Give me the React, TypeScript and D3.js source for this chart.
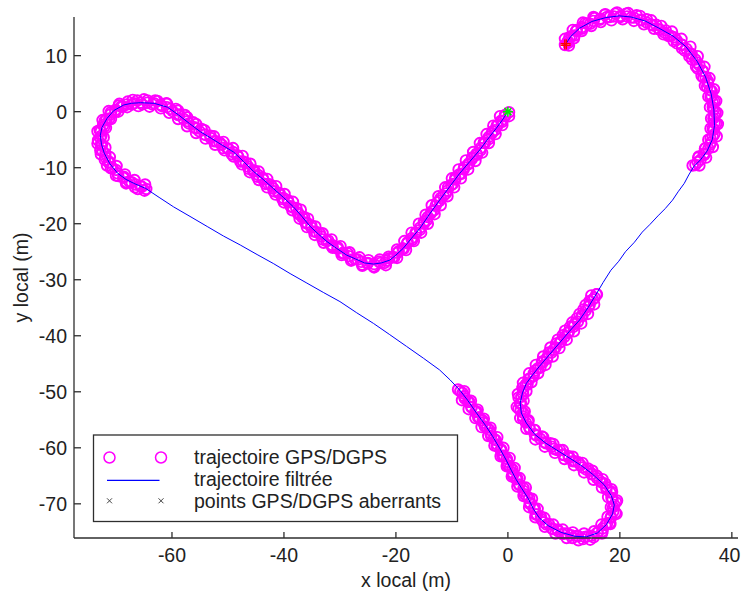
import React from 'react';
import * as d3 from 'd3';

type P = [number, number];

const xTicks = [-60, -40, -20, 0, 20, 40];
const yTicks = [-70, -60, -50, -40, -30, -20, -10, 0, 10];
const xDomain: P = [-77.5, 41.1];
const yDomain: P = [-76.1, 16.9];

const xLabel = 'x local (m)';
const yLabel = 'y local (m)';
const legendLabels = ['trajectoire GPS/DGPS', 'trajectoire filtrée', 'points GPS/DGPS aberrants'];

const startPoint: P = [0, 0];
const endPoint: P = [10.3, 12.0];

// GPS/DGPS measurements, segment 1
const gpsSegA: P[] = [
  [0.2,-0.1],[-0.5,-0.8],[-1.0,-1.8],[-1.8,-2.4],[-2.3,-3.3],[-2.9,-3.9],[-3.4,-4.9],[-4.3,-5.5],[-4.9,-6.9],[-5.5,-7.7],
  [-6.4,-8.2],[-6.9,-9.2],[-7.8,-9.9],[-8.3,-11.1],[-9.4,-11.8],[-9.8,-12.9],[-10.7,-13.5],[-11.1,-14.6],[-12.0,-15.4],[-12.6,-16.2],
  [-13.2,-17.6],[-13.8,-18.2],[-14.5,-19.4],[-15.0,-20.0],[-15.7,-21.1],[-16.4,-21.7],[-17.1,-22.9],[-17.9,-23.3],[-18.6,-24.5],[-19.5,-24.9],
  [-20.3,-26.0],[-21.2,-26.2],[-22.0,-27.0],[-23.0,-26.8],[-24.0,-27.6],[-25.0,-27.0],[-26.0,-27.3],[-26.8,-26.4],[-27.8,-26.4],[-28.6,-25.3],
  [-29.6,-25.3],[-30.4,-24.2],[-31.4,-24.1],[-32.1,-23.0],[-33.1,-22.8],[-33.6,-21.7],[-34.6,-21.4],[-35.1,-20.3],[-36.1,-19.9],[-36.4,-18.8],
  [-37.4,-18.3],[-37.8,-17.2],[-38.8,-16.9],[-39.3,-15.8],[-40.3,-15.6],[-40.8,-14.5],[-41.8,-14.2],[-42.3,-13.1],[-43.3,-12.9],[-43.8,-11.8],
  [-44.8,-11.6],[-45.3,-10.5],[-46.3,-10.2],[-46.8,-9.1],[-47.8,-8.9],[-48.3,-7.8],[-49.3,-7.6],[-49.9,-6.6],[-50.9,-6.5],[-51.5,-5.5],
  [-52.5,-5.3],[-53.1,-4.3],[-54.1,-4.1],[-54.7,-3.1],[-55.7,-3.0],[-56.2,-1.9],[-57.2,-1.7],[-57.7,-0.6],[-58.7,-0.5],[-59.3,0.5],
  [-60.3,0.5],[-60.9,1.4],[-61.8,1.0],[-62.6,1.9],[-63.5,1.3],[-64.4,2.0],[-65.3,1.3],[-66.2,2.0],[-67.1,1.3],[-67.9,1.8],
  [-68.8,0.9],[-69.5,1.1],[-70.1,0.0],[-70.9,-0.1],[-71.2,-1.2],[-72.0,-1.6],[-72.1,-2.7],[-72.9,-3.3],[-72.6,-4.3],[-73.2,-5.1],
  [-72.5,-5.9],[-72.8,-6.9],[-71.9,-7.5],[-72.0,-8.6],[-71.1,-9.0],[-70.9,-10.1],[-70.0,-10.4],[-69.6,-11.5],[-68.6,-11.6],[-68.1,-12.6],
  [-67.2,-12.6],[-66.6,-13.5],[-65.6,-13.3],[-64.9,-14.1],
  [0.2,-0.8],[-1.4,-0.8],[-1.0,-2.4],[-2.6,-2.5],[-2.2,-4.0],[-3.8,-4.0],[-3.4,-5.6],[-5.0,-5.6],[-4.6,-7.3],[-6.2,-7.2],
  [-5.8,-8.8],[-7.5,-8.7],[-7.1,-10.3],[-8.8,-10.3],[-8.4,-11.9],[-10.0,-11.9],[-9.6,-13.5],[-11.2,-13.5],[-10.8,-15.1],[-12.4,-15.1],
  [-12.0,-16.7],[-13.6,-16.7],[-13.1,-18.3],[-14.7,-18.4],[-14.3,-20.0],[-15.9,-20.0],[-15.5,-21.6],[-17.2,-21.6],[-16.8,-23.1],[-18.5,-23.1],
  [-18.2,-24.7],[-19.8,-24.6],[-19.8,-26.1],[-21.3,-25.9],[-21.8,-27.4],[-22.9,-26.4],[-23.9,-27.8],[-24.9,-26.5],[-26.0,-27.5],[-26.5,-26.0],
  [-28.0,-26.6],[-28.3,-25.1],[-29.7,-25.6],[-29.9,-24.0],[-31.3,-24.3],[-31.5,-22.8],[-32.9,-23.4],[-33.1,-21.7],[-34.5,-22.0],[-34.4,-20.5],
  [-35.9,-20.6],[-35.7,-19.1],[-37.2,-19.1],[-37.0,-17.5],[-38.5,-17.6],[-38.4,-16.1],[-40.0,-16.2],[-39.9,-14.7],[-41.5,-14.8],[-41.4,-13.3],
  [-43.0,-13.5],[-43.0,-12.0],[-44.5,-12.2],[-44.5,-10.7],[-46.1,-10.8],[-46.0,-9.3],[-47.5,-9.4],[-47.4,-7.9],[-49.0,-8.0],[-49.1,-6.5],
  [-50.6,-6.9],[-50.8,-5.4],[-52.3,-5.9],[-52.5,-4.4],[-54.0,-4.8],[-54.2,-3.3],[-55.7,-3.8],[-55.7,-2.2],[-57.3,-2.6],[-57.3,-1.0],
  [-58.9,-1.3],[-58.9,0.2],[-60.5,-0.2],[-61.0,1.5],[-62.0,0.6],[-63.0,2.0],[-64.0,0.9],[-65.0,2.2],[-66.0,1.0],[-67.0,2.1],
  [-68.0,0.8],[-69.4,1.4],[-69.6,0.0],[-71.3,0.1],[-70.9,-1.3],[-72.4,-1.5],[-71.8,-2.9],[-73.3,-3.5],[-72.2,-4.6],[-73.3,-5.7],
  [-71.9,-6.4],[-72.7,-7.6],[-71.1,-8.1],[-71.6,-9.6],[-69.9,-9.7],[-70.0,-11.4],[-68.4,-11.2],[-68.2,-12.8],[-66.7,-12.2],[-66.1,-13.8],
  [-64.8,-13.0],
  [-0.5,-0.6],[-1.2,-1.6],[-2.0,-2.5],[-2.7,-3.5],[-3.4,-4.5],[-4.1,-5.6],[-4.9,-6.5],[-5.6,-7.5],[-6.4,-8.4],[-7.1,-9.4],
  [-7.9,-10.3],[-8.7,-11.2],[-9.4,-12.1],[-10.1,-13.1],[-10.8,-14.1],[-11.5,-15.0],[-12.2,-15.9],[-12.9,-16.8],[-13.6,-17.8],[-14.3,-18.8],
  [-15.0,-19.7],[-15.7,-20.7],[-16.5,-21.6],[-17.2,-22.6],[-18.0,-23.5],[-18.8,-24.4],[-19.7,-25.2],[-20.6,-26.0],[-21.6,-26.6],[-22.7,-27.0],
  [-23.9,-27.2],[-25.1,-27.1],[-26.2,-26.8],[-27.3,-26.3],[-28.4,-25.8],[-29.4,-25.2],[-30.4,-24.5],[-31.4,-23.8],[-32.4,-23.1],[-33.3,-22.3],
  [-34.2,-21.5],[-35.1,-20.7],[-35.9,-19.8],[-36.7,-18.9],[-37.5,-18.0],[-38.4,-17.1],[-39.2,-16.2],[-40.1,-15.4],[-41.0,-14.5],[-41.9,-13.7],
  [-42.8,-12.9],[-43.7,-12.1],[-44.6,-11.3],[-45.5,-10.6],[-46.4,-9.8],[-47.3,-8.9],[-48.2,-8.0],[-49.1,-7.2],[-50.1,-6.6],[-51.1,-5.9],
  [-52.1,-5.3],[-53.1,-4.7],[-54.1,-4.1],[-55.1,-3.5],[-56.0,-2.8],[-57.0,-2.1],[-57.9,-1.3],[-58.9,-0.6],[-59.9,0.1],[-60.9,0.8],
  [-62.0,1.2],[-63.2,1.5],[-64.4,1.6],[-65.6,1.6],[-66.8,1.5],[-68.0,1.3],[-69.1,0.9],[-70.1,0.3],[-71.0,-0.5],[-71.7,-1.4],
  [-72.3,-2.4],[-72.7,-3.5],[-72.8,-4.7],[-72.7,-5.9],[-72.4,-7.0],[-71.9,-8.1],[-71.3,-9.1],[-70.6,-10.1],[-69.7,-11.0],[-68.7,-11.8],
  [-67.6,-12.5],[-66.5,-13.0],[-65.4,-13.4],[-64.6,-13.8],
];

// GPS/DGPS measurements, segment 2
const gpsSegB: P[] = [
  [-8.9,-49.6],[-8.1,-50.2],[-7.7,-51.2],[-6.9,-51.8],[-6.5,-52.8],[-5.6,-53.5],[-5.3,-54.6],[-4.5,-55.1],[-4.1,-56.2],[-3.3,-56.8],
  [-3.0,-57.9],[-2.2,-58.6],[-2.0,-59.7],[-1.2,-60.3],[-1.0,-61.4],[-0.2,-62.0],[0.0,-63.1],[0.8,-63.8],[0.9,-64.9],[1.7,-65.5],
  [2.0,-66.6],[2.8,-67.2],[3.0,-68.3],[3.8,-69.0],[3.9,-70.0],[4.8,-70.8],[5.0,-71.9],[5.9,-72.3],[6.4,-73.3],[7.3,-73.6],
  [8.0,-74.5],[8.9,-74.6],[9.7,-75.4],[10.6,-75.3],[11.5,-76.1],[12.4,-75.7],[13.4,-76.3],[14.3,-75.8],[15.3,-76.0],[16.0,-75.1],
  [16.9,-74.9],[17.4,-73.8],[18.2,-73.4],[18.4,-72.3],[19.2,-71.6],[18.8,-70.6],[19.3,-69.7],[18.5,-68.9],[18.6,-67.9],[17.6,-67.4],
  [17.4,-66.4],[16.4,-65.9],[15.9,-65.0],[14.9,-64.7],[14.3,-63.7],[13.3,-63.5],[12.6,-62.6],[11.6,-62.4],[10.9,-61.5],[9.9,-61.3],
  [9.3,-60.4],[8.2,-60.2],[7.6,-59.2],[6.6,-59.0],[6.1,-58.0],[5.1,-57.8],[4.7,-56.8],[3.8,-56.3],[3.6,-55.3],[2.7,-54.8],
  [2.7,-53.7],[1.9,-53.0],[2.3,-52.0],[1.9,-51.0],[2.7,-50.4],[2.6,-49.3],[3.5,-48.7],[3.7,-47.7],[4.6,-47.2],[4.9,-46.2],
  [5.8,-45.7],[6.1,-44.6],[7.0,-44.1],[7.3,-43.0],[8.2,-42.5],[8.6,-41.4],[9.5,-41.0],[9.8,-39.9],[10.7,-39.5],[11.1,-38.4],
  [11.9,-37.9],[12.3,-36.9],[13.2,-36.4],[13.5,-35.3],[14.4,-34.8],[14.6,-33.8],[15.5,-33.2],[15.9,-32.6],
  [-7.8,-49.9],[-8.2,-51.5],[-6.6,-51.6],[-7.0,-53.1],[-5.4,-53.2],[-5.8,-54.7],[-4.3,-54.8],[-4.7,-56.3],[-3.1,-56.4],[-3.5,-57.9],
  [-1.9,-58.1],[-2.4,-59.6],[-0.8,-60.0],[-1.3,-61.5],[0.3,-61.8],[-0.2,-63.3],[1.2,-63.6],[0.7,-65.1],[2.1,-65.4],[1.7,-66.9],
  [3.2,-67.1],[2.8,-68.6],[4.3,-69.1],[3.8,-70.6],[5.3,-70.9],[4.9,-72.4],[6.5,-72.5],[6.6,-74.1],[8.1,-73.7],[8.5,-75.3],
  [9.8,-74.6],[10.5,-76.1],[11.6,-75.1],[12.6,-76.5],[13.6,-75.3],[14.7,-76.4],[15.4,-74.9],[16.8,-75.3],[16.7,-73.7],[18.3,-73.6],
  [17.8,-72.3],[19.4,-71.8],[18.4,-70.6],[19.5,-69.4],[17.9,-68.8],[18.5,-67.4],[16.8,-67.1],[16.9,-65.6],[15.3,-65.7],[15.1,-64.1],
  [13.6,-64.4],[13.3,-62.7],[11.8,-63.1],[11.6,-61.6],[10.1,-62.0],[9.8,-60.4],[8.4,-60.9],[8.1,-59.3],[6.6,-59.8],[6.3,-58.1],
  [4.9,-58.5],[4.8,-56.8],[3.3,-56.6],[3.7,-55.1],[2.2,-54.7],[3.0,-53.5],[1.6,-52.7],[2.8,-51.6],[1.8,-50.4],[3.3,-49.9],
  [2.7,-48.4],[4.2,-48.3],[3.8,-46.7],[5.4,-46.7],[5.0,-45.2],[6.7,-45.2],[6.3,-43.7],[8.0,-43.7],[7.6,-42.1],[9.2,-42.2],
  [8.9,-40.7],[10.5,-40.7],[10.2,-39.1],[11.8,-39.2],[11.5,-37.6],[13.1,-37.8],[12.8,-36.1],[14.3,-36.1],[13.9,-34.5],[15.4,-34.4],
  [14.9,-32.8],
  [-8.5,-49.9],[-7.8,-50.8],[-7.1,-51.8],[-6.5,-52.7],[-5.8,-53.6],[-5.1,-54.6],[-4.4,-55.5],[-3.7,-56.4],[-3.1,-57.4],[-2.5,-58.4],
  [-1.9,-59.4],[-1.3,-60.4],[-0.7,-61.4],[-0.1,-62.5],[0.4,-63.5],[0.9,-64.5],[1.5,-65.6],[2.1,-66.6],[2.8,-67.7],[3.4,-68.7],
  [4.0,-69.8],[4.6,-70.9],[5.2,-71.9],[6.0,-72.8],[6.9,-73.7],[7.9,-74.4],[9.0,-74.9],[10.1,-75.3],[11.3,-75.6],[12.5,-75.8],
  [13.7,-75.9],[14.9,-75.7],[16.0,-75.2],[16.9,-74.4],[17.7,-73.5],[18.4,-72.5],[18.8,-71.4],[19.0,-70.2],[18.7,-69.1],[18.3,-68.0],
  [17.6,-67.0],[16.8,-66.2],[15.9,-65.4],[15.0,-64.6],[14.0,-63.9],[13.0,-63.1],[12.0,-62.4],[10.9,-61.8],[9.9,-61.2],[8.8,-60.4],
  [7.8,-59.8],[6.8,-59.2],[5.8,-58.4],[4.8,-57.6],[3.9,-56.6],[3.2,-55.5],[2.7,-54.4],[2.3,-53.3],[2.2,-52.1],[2.4,-50.9],
  [2.7,-49.8],[3.2,-48.7],[3.9,-47.7],[4.6,-46.7],[5.4,-45.8],[6.2,-44.8],[7.0,-43.9],[7.8,-43.0],[8.5,-42.1],[9.3,-41.2],
  [10.1,-40.2],[10.9,-39.3],[11.7,-38.4],[12.5,-37.5],[13.3,-36.5],[13.9,-35.5],[14.6,-34.5],[15.2,-33.5],[15.8,-32.6],
];

// GPS/DGPS measurements, segment 3
const gpsSegC: P[] = [
  [33.0,-9.6],[33.9,-9.0],[34.1,-8.0],[35.0,-7.5],[35.3,-6.5],[36.1,-5.9],[36.2,-4.8],[36.9,-4.0],[36.6,-3.0],[37.2,-2.1],
  [36.7,-1.2],[37.1,-0.2],[36.6,0.8],[36.9,1.8],[36.2,2.6],[36.4,3.7],[35.6,4.4],[35.7,5.5],[34.9,6.1],[34.8,7.2],
  [33.9,7.7],[33.7,8.8],[32.9,9.3],[32.5,10.4],[31.6,10.9],[31.1,11.9],[30.2,12.2],[29.7,13.3],[28.7,13.5],[28.2,14.5],
  [27.2,14.6],[26.5,15.5],[25.5,15.6],[24.8,16.5],[23.8,16.3],[23.0,17.2],[22.0,16.8],[21.1,17.5],[20.1,16.9],[19.2,17.5],
  [18.2,16.9],[17.3,17.3],[16.4,16.4],[15.5,16.7],[14.7,15.7],[13.8,15.8],[13.2,14.8],[12.3,14.6],[11.9,13.6],[11.0,13.3],
  [10.8,12.3],[10.2,11.9],
  [34.2,-9.6],[34.0,-8.2],[35.4,-8.2],[35.2,-6.6],[36.6,-6.3],[35.8,-5.0],[37.3,-4.4],[36.2,-3.0],[37.5,-2.2],[36.3,-1.2],
  [37.4,-0.2],[36.1,0.8],[37.2,1.9],[35.8,2.7],[36.8,4.0],[35.2,4.6],[36.0,6.0],[34.6,6.4],[35.1,8.0],[33.6,8.1],
  [33.9,9.9],[32.4,9.9],[32.6,11.6],[31.1,11.3],[31.0,13.0],[29.6,12.6],[29.3,14.3],[27.8,13.8],[27.4,15.3],[26.1,14.8],
  [25.6,16.3],[24.3,15.6],[23.6,17.1],[22.5,16.2],[21.5,17.6],[20.5,16.5],[19.5,17.7],[18.5,16.3],[17.4,17.4],[16.6,16.0],
  [15.3,16.9],[14.9,15.3],[13.4,15.9],[13.2,14.4],[11.6,14.6],[11.8,13.1],[10.2,13.0],[10.9,11.8],
  [33.5,-9.5],[34.4,-8.6],[35.1,-7.7],[35.8,-6.6],[36.3,-5.5],[36.6,-4.4],[36.8,-3.2],[36.9,-2.0],[36.9,-0.8],[36.8,0.4],
  [36.6,1.6],[36.4,2.8],[36.1,3.9],[35.7,5.1],[35.3,6.2],[34.8,7.3],[34.2,8.3],[33.5,9.3],[32.8,10.3],[31.9,11.2],
  [31.0,12.0],[30.1,12.8],[29.1,13.5],[28.0,14.1],[27.0,14.7],[25.9,15.4],[24.8,15.9],[23.7,16.4],[22.5,16.8],[21.3,17.0],
  [20.1,17.1],[18.9,17.0],[17.7,16.9],[16.5,16.6],[15.3,16.2],[14.2,15.7],[13.2,15.1],[12.2,14.4],[11.4,13.5],[10.7,12.6],
];

// filtered trajectory
const filtered: P[] = [
  [0,0],[-1.0,-1.5],[-2.1,-3.0],[-3.6,-4.9],[-5.0,-6.8],[-6.8,-8.9],[-8.6,-11.0],[-10.4,-13.4],[-12.2,-15.8],[-14.0,-18.3],
  [-15.7,-20.8],[-17.3,-22.7],[-18.7,-24.4],[-20.0,-25.6],[-21.1,-26.5],[-22.6,-27.0],[-24.0,-27.2],[-25.6,-27.0],[-27.2,-26.3],[-28.8,-25.6],
  [-30.6,-24.4],[-32.3,-23.2],[-33.8,-21.9],[-35.3,-20.5],[-36.8,-18.7],[-38.3,-17.0],[-40.1,-15.3],[-41.9,-13.7],[-43.7,-12.1],[-45.4,-10.7],
  [-47.2,-8.9],[-49.0,-7.2],[-51.0,-6.0],[-52.9,-4.8],[-54.9,-3.6],[-56.9,-2.1],[-58.8,-0.6],[-60.8,0.8],[-63.2,1.5],[-65.6,1.6],
  [-67.2,1.5],[-68.6,1.2],[-70.4,0.2],[-71.6,-1.2],[-72.5,-2.8],[-72.8,-4.2],[-72.6,-5.8],[-72.1,-7.4],[-71.1,-9.3],[-69.7,-11.0],
  [-68.2,-12.1],[-66.8,-12.8],[-64.7,-13.7],
  [-62.3,-15.3],[-59.7,-17.0],[-56.6,-18.8],[-53.7,-20.5],[-50.8,-22.2],[-47.8,-23.8],[-44.8,-25.5],[-41.9,-27.1],[-38.9,-28.9],[-35.9,-30.6],
  [-32.9,-32.3],[-30.0,-33.9],[-27.0,-35.9],[-24.0,-37.8],[-21.1,-39.8],[-18.1,-41.9],[-15.1,-44.0],[-12.2,-46.1],[-10.3,-47.9],[-8.6,-49.7],
  [-7.2,-51.5],[-5.6,-53.8],[-4.0,-56.0],[-2.7,-58.0],[-1.4,-60.2],[-0.3,-62.2],[0.6,-64.0],[1.5,-65.7],[2.5,-67.3],[3.6,-69.0],
  [4.6,-71.0],[5.6,-72.5],[7.2,-73.9],[9.5,-75.1],[12.0,-75.8],[14.0,-75.9],[16.0,-75.2],[17.6,-73.7],[18.7,-71.8],[19.0,-70.2],
  [18.5,-68.6],[17.2,-66.6],[15.1,-64.7],[13.3,-63.3],[11.6,-62.2],[9.2,-60.7],[6.8,-59.2],[4.8,-57.6],[3.3,-55.6],[2.4,-53.8],
  [2.2,-52.0],[2.6,-50.2],[3.3,-48.5],[4.4,-47.0],[5.6,-45.5],[7.4,-43.4],[9.2,-41.3],[11.0,-39.2],[12.8,-37.2],[14.3,-35.0],
  [15.7,-32.7],
  [17.0,-30.5],[18.4,-28.3],[19.8,-26.7],[21.0,-25.0],[22.6,-23.3],[24.0,-21.5],[25.4,-20.1],[26.8,-18.6],[28.1,-17.3],[29.4,-15.8],
  [30.4,-14.3],[31.5,-12.8],[32.3,-11.3],[33.2,-9.8],
  [34.4,-8.6],[35.6,-7.0],[36.5,-5.0],[36.9,-2.5],[36.8,0.3],[36.3,3.2],[35.3,6.2],[33.8,9.0],[31.8,11.6],[29.5,13.5],
  [27.0,14.9],[24.5,16.2],[22.0,16.9],[19.9,17.1],[17.5,16.8],[15.0,16.1],[12.8,14.9],[11.2,13.4],[10.3,12.0],
];

const FONT = '"Liberation Sans", Arial, sans-serif';
const AXIS = '#2e2e2e';
const MAGENTA = '#ff00ff';
const BLUE = '#0000ff';

export default function App() {
  const W = 741, H = 592;
  const left = 74, right = 738, top = 17, bottom = 538;
  const x = d3.scaleLinear().domain(xDomain).range([left, right]);
  const y = d3.scaleLinear().domain(yDomain).range([bottom, top]);
  const line = d3.line<P>().x(d => x(d[0])).y(d => y(d[1]));
  const gps = [...gpsSegA, ...gpsSegB, ...gpsSegC];
  const R = 5.3;

  const lg = { x0: 93.5, y0: 435, x1: 457.5, y1: 521.5 };
  const mk1 = 109.5, mk2 = 161;
  const rowsY = [457.5, 480.3, 500.8];
  const baseY = [464, 486, 507.5];

  const sx = x(startPoint[0]), sy = y(startPoint[1]);
  const ex = x(endPoint[0]), ey = y(endPoint[1]);

  return (
    <svg width={W} height={H} style={{ position: 'absolute', left: 0, top: 0, background: '#fff' }}
      fontFamily={FONT}>
      <rect x={0} y={0} width={W} height={H} fill="#fff" />
      <g fill="none" stroke={MAGENTA} strokeWidth={1.9}>
        {gps.map((d, i) => (
          <circle key={i} cx={x(d[0])} cy={y(d[1])} r={R} />
        ))}
      </g>
      <path d={line(filtered) || ''} fill="none" stroke={BLUE} strokeWidth={1} />
      <g stroke="#00ee00" strokeWidth={1.6}>
        <line x1={sx - 5} y1={sy} x2={sx + 5} y2={sy} />
        <line x1={sx} y1={sy - 5} x2={sx} y2={sy + 5} />
        <line x1={sx - 3.5} y1={sy - 3.5} x2={sx + 3.5} y2={sy + 3.5} />
        <line x1={sx - 3.5} y1={sy + 3.5} x2={sx + 3.5} y2={sy - 3.5} />
      </g>
      <g stroke="#ff0000" strokeWidth={1.4}>
        <line x1={ex - 5} y1={ey - 0.8} x2={ex + 5} y2={ey - 0.8} />
        <line x1={ex - 5} y1={ey + 0.8} x2={ex + 5} y2={ey + 0.8} />
        <line x1={ex - 0.8} y1={ey - 5} x2={ex - 0.8} y2={ey + 5} />
        <line x1={ex + 0.8} y1={ey - 5} x2={ex + 0.8} y2={ey + 5} />
      </g>

      <g stroke={AXIS} strokeWidth={1.3}>
        <line x1={left} y1={top} x2={left} y2={bottom} />
        <line x1={left} y1={bottom} x2={right} y2={bottom} />
        {xTicks.map(t => (
          <line key={'xt' + t} x1={x(t)} x2={x(t)} y1={bottom} y2={bottom - 6} />
        ))}
        {yTicks.map(t => (
          <line key={'yt' + t} x1={left} x2={left + 7} y1={y(t)} y2={y(t)} />
        ))}
      </g>
      <g fill="#222" fontSize={19.5}>
        {xTicks.map(t => (
          <text key={'xl' + t} x={Math.min(x(t), W - 11.5)} y={562} textAnchor="middle">{t}</text>
        ))}
        {yTicks.map(t => (
          <text key={'yl' + t} x={67} y={y(t) + 7} textAnchor="end">{t}</text>
        ))}
        <text x={(left + right) / 2} y={587} textAnchor="middle">{xLabel}</text>
        <text transform={`translate(28,${(top + bottom) / 2}) rotate(-90)`} textAnchor="middle">{yLabel}</text>
      </g>

      <rect x={lg.x0} y={lg.y0} width={lg.x1 - lg.x0} height={lg.y1 - lg.y0} fill="#fff" stroke={AXIS} strokeWidth={1.3} />
      <g fill="none" stroke={MAGENTA} strokeWidth={1.5}>
        <circle cx={mk1} cy={rowsY[0]} r={5.5} />
        <circle cx={mk2} cy={rowsY[0]} r={5.5} />
      </g>
      <line x1={107} x2={159.5} y1={rowsY[1]} y2={rowsY[1]} stroke={BLUE} strokeWidth={1.3} />
      <g stroke="#444" strokeWidth={1}>
        {[mk1, mk2].map((mx, i) => (
          <g key={i}>
            <line x1={mx - 2.5} y1={rowsY[2] - 2.5} x2={mx + 2.5} y2={rowsY[2] + 2.5} />
            <line x1={mx - 2.5} y1={rowsY[2] + 2.5} x2={mx + 2.5} y2={rowsY[2] - 2.5} />
          </g>
        ))}
      </g>
      <g fill="#222" fontSize={19.5}>
        {legendLabels.map((s, i) => (
          <text key={i} x={194} y={baseY[i]}>{s}</text>
        ))}
      </g>
    </svg>
  );
}
